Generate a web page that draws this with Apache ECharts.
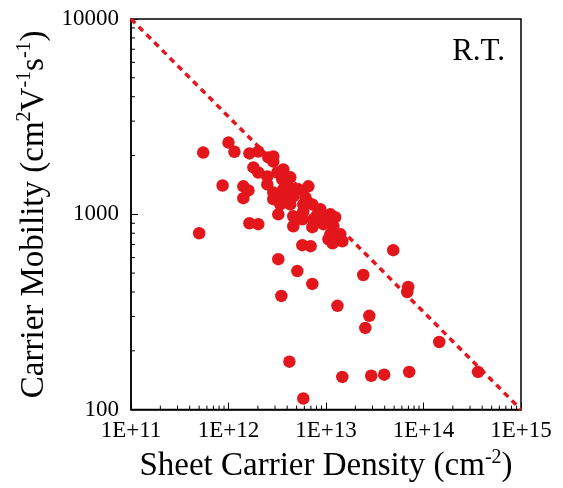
<!DOCTYPE html>
<html>
<head>
<meta charset="utf-8">
<script src="https://cdn.jsdelivr.net/npm/echarts/dist/echarts.min.js"></script>
<style>html,body{margin:0;padding:0;background:#fff}#c{width:563px;height:488px}</style>
</head>
<body>
<div id="c"></div>
<script>
// Sheet carrier density (cm^-2)
var densities = [5.5e11, 5.0e11, 1.0e12, 1.15e12, 8.7e11, 1.42e12, 1.6e12, 1.42e12, 1.64e12, 2.02e12,
  1.64e12, 2.02e12, 2.56e12, 2.88e12, 1.8e12, 2.02e12, 2.5e12, 2.5e12, 3.17e12, 3.65e12,
  3.56e12, 4.3e12, 4.11e12, 5.2e12, 6.59e12, 2.88e12, 3.65e12, 4.62e12, 6.14e12, 7.24e12,
  8.74e12, 1.11e13, 1.24e13, 3.24e12, 4.62e12, 5.72e12, 7.41e12, 9.38e12, 1.19e13, 1.40e13,
  1.47e13, 1.06e13, 4.62e12, 7.24e12, 5.72e12, 6.95e12, 3.24e12, 5.08e12, 7.24e12, 3.48e12,
  2.41e13, 4.89e13, 6.97e13, 6.81e13, 1.31e13, 2.78e13, 2.53e13, 1.45e14, 4.21e12, 1.47e13,
  2.91e13, 3.95e13, 7.13e13, 3.63e14, 5.85e12, 1.17e13, 2.88e12, 3.65e12, 4.62e12, 5.85e12,
  4.3e12, 3.4e12, 8.15e12, 1.03e13, 1.11e13, 2.88e12, 5.85e12];
// Carrier mobility (cm^2 V^-1 s^-1)
var mobilities = [2070, 800, 2330, 2090, 1405, 1390, 1325, 1210, 900, 890,
  2050, 2095, 1955, 1862, 1738, 1637, 1563, 1422, 1637, 1698,
  1510, 1546, 1390, 1343, 1390, 1195, 1222, 1237, 1222, 1124,
  1062, 1000, 966, 1000, 977, 943, 943, 890, 869, 791,
  728, 745, 869, 859, 695, 687, 589, 512, 440, 382,
  489, 655, 425, 400, 340, 302, 262, 222, 176, 147,
  149, 151, 156, 156, 114, 711, 1294, 1343, 1294, 1124,
  1124, 1124, 1000, 977, 791, 1977, 1035];
// Dashed reference line endpoints
var lineDensity = [1e11, 1e15];
var lineMobility = [10000, 100];
// Axis ranges
var xRange = [1e11, 1e15];
var yRange = [100, 10000];
// Minor tick values (log axes)
var xMinorTicks = [];
[1e11, 1e12, 1e13, 1e14].forEach(function (d) { for (var k = 2; k <= 9; k++) xMinorTicks.push(k * d); });
var yMinorTicks = [];
[100, 1000].forEach(function (d) { for (var k = 2; k <= 9; k++) yMinorTicks.push(k * d); });

var FONT = 'Liberation Serif, Times New Roman, serif';
var RED = '#e3161c';

var chart = echarts.init(document.getElementById('c'), null, {renderer: 'canvas'});
var scatterData = densities.map(function (x, i) { return [x, mobilities[i]]; });
var lineData = lineDensity.map(function (x, i) { return [x, lineMobility[i]]; });

chart.setOption({
  animation: false,
  backgroundColor: '#fff',
  title: {
    text: 'R.T.', right: 58, top: 36, padding: 0,
    textStyle: {fontFamily: FONT, fontSize: 31, fontWeight: 'normal', color: '#000'}
  },
  grid: {left: 131, right: 42, top: 19, bottom: 77, show: true, borderColor: '#000', borderWidth: 1.5, backgroundColor: 'transparent'},
  xAxis: {
    type: 'log', logBase: 10, min: xRange[0], max: xRange[1],
    axisLine: {show: true, lineStyle: {color: '#000', width: 1.5}},
    axisTick: {show: true, inside: true, length: 7, lineStyle: {color: '#000', width: 1}},
    splitLine: {show: false},
    axisLabel: {
      color: '#000', fontFamily: FONT, fontSize: 23, margin: 10,
      formatter: function (v) { return '1E+' + Math.round(Math.log10(v)); }
    },
    name: '{a|Sheet Carrier Density (cm}{b|-2}{a|)}',
    nameLocation: 'middle', nameGap: 36,
    nameTextStyle: {
      color: '#000', fontFamily: FONT, fontSize: 33,
      rich: {
        a: {fontFamily: FONT, fontSize: 33, color: '#000', lineHeight: 38},
        b: {fontFamily: FONT, fontSize: 20, color: '#000', verticalAlign: 'top', lineHeight: 38}
      }
    }
  },
  yAxis: {
    type: 'log', logBase: 10, min: yRange[0], max: yRange[1],
    axisLine: {show: true, lineStyle: {color: '#000', width: 1.5}},
    axisTick: {show: true, inside: true, length: 7, lineStyle: {color: '#000', width: 1}},
    splitLine: {show: false},
    axisLabel: {
      color: '#000', fontFamily: FONT, fontSize: 23, margin: 12,
      formatter: function (v) { return String(Math.round(v)); }
    },
    name: '{a|Carrier Mobility (cm}{b|2}{a|V}{b|-1}{a|s}{b|-1}{a|)}',
    nameLocation: 'middle', nameGap: 72, nameRotate: 90,
    nameTextStyle: {
      color: '#000', fontFamily: FONT, fontSize: 33,
      rich: {
        a: {fontFamily: FONT, fontSize: 33, color: '#000', lineHeight: 38},
        b: {fontFamily: FONT, fontSize: 20, color: '#000', verticalAlign: 'top', lineHeight: 38}
      }
    }
  },
  series: [
    {
      type: 'line', data: lineData, symbol: 'none', z: 3,
      lineStyle: {color: RED, width: 3.5, type: [6, 5]}
    },
    {
      type: 'scatter', data: scatterData, symbol: 'circle', symbolSize: 12.5, z: 2,
      itemStyle: {color: RED, opacity: 1}
    },
    {
      type: 'custom', clip: false, silent: true, z: 4,
      data: xMinorTicks.map(function (v) { return [v, yRange[0]]; }),
      renderItem: function (params, api) {
        var p = api.coord([api.value(0), api.value(1)]);
        return {type: 'line', shape: {x1: p[0], y1: p[1], x2: p[0], y2: p[1] - 4}, style: {stroke: '#000', lineWidth: 1}};
      }
    },
    {
      type: 'custom', clip: false, silent: true, z: 4,
      data: yMinorTicks.map(function (v) { return [xRange[0], v]; }),
      renderItem: function (params, api) {
        var p = api.coord([api.value(0), api.value(1)]);
        return {type: 'line', shape: {x1: p[0], y1: p[1], x2: p[0] + 4, y2: p[1]}, style: {stroke: '#000', lineWidth: 1}};
      }
    }
  ]
});
</script>
</body>
</html>
